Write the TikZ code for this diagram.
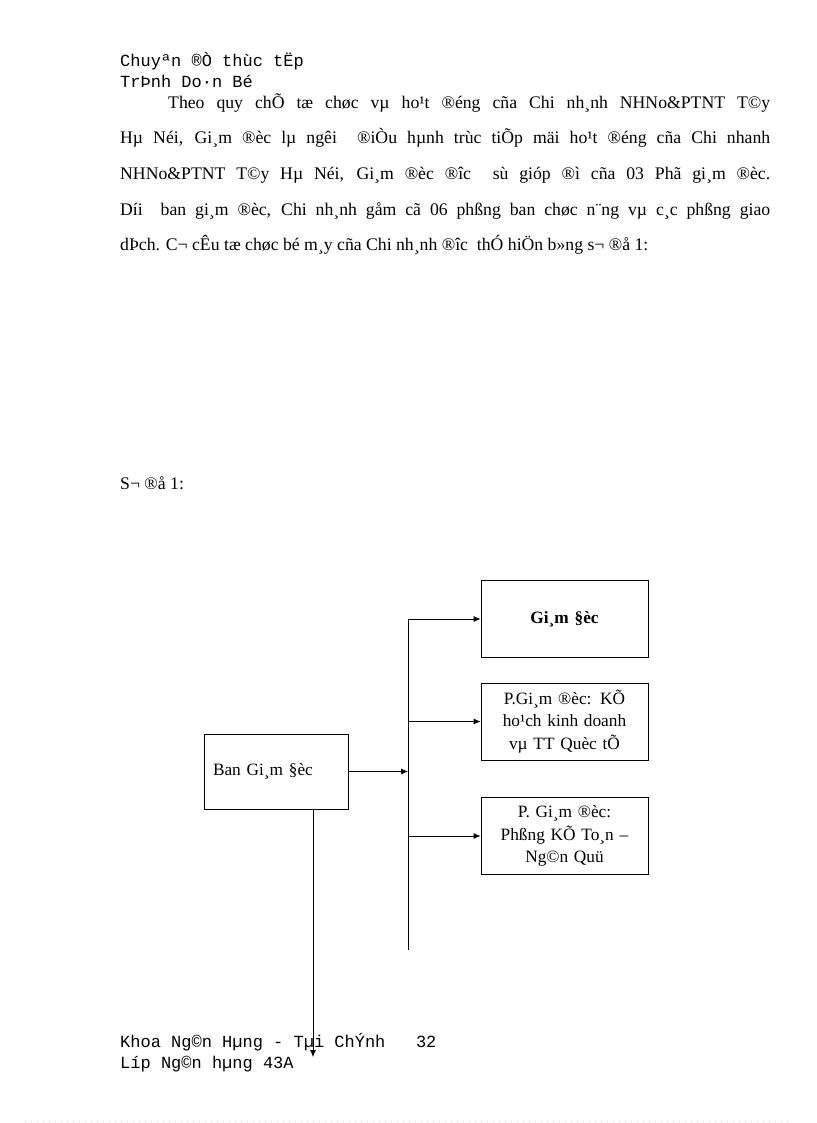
\documentclass[tikz,border=0pt]{standalone}
\usepackage{fontspec}
\setmainfont{Liberation Serif}
\setmonofont{Liberation Mono}
\usepackage{tikz}
\usetikzlibrary{arrows.meta}

\definecolor{edgedots}{RGB}{225,190,235}

\tikzset{
  txt/.style={anchor=base west,inner sep=0pt,font=\fontsize{17.7}{21}\selectfont},
  mono/.style={anchor=base west,inner sep=0pt,font=\fontsize{17}{21}\ttfamily},
  unit/.style={draw,line width=0.8pt,minimum width=167pt,minimum height=77pt,text width=150pt,align=center,inner sep=0pt,font=\fontsize{17.3}{22.5}\selectfont},
  link/.style={line width=0.8pt,-{Latex[length=7pt,width=6pt]}}
}
\newcommand{\jline}[1]{\makebox[650pt][s]{#1}}

\begin{document}
\begin{tikzpicture}[x=1pt,y=-1pt]
        \useasboundingbox (0,0) rectangle (816,1123);

        % header and footer
        \node[mono] (head1) at (120,67) {Chuyªn ®Ò thùc tËp};
        \node[mono] (head2) at (120,88) {TrÞnh Do·n Bé};
        \node[mono] (foot1) at (120,1047) {Khoa Ng©n Hµng - Tµi ChÝnh\ \ \ 32};
        \node[mono] (foot2) at (120,1068) {Líp Ng©n hµng 43A};

        % paragraph
        \node[txt] (par1) at (168,109) {\makebox[602pt][s]{Theo quy chÕ tæ chøc vµ ho¹t ®éng cña Chi nh¸nh NHNo\&PTNT T©y}};
        \node[txt] (par2) at (120,144) {\jline{Hµ Néi, Gi¸m ®èc lµ ngêi \ ®iÒu hµnh trùc tiÕp mäi ho¹t ®éng cña Chi nhanh}};
        \node[txt] (par3) at (120,180) {\jline{NHNo\&PTNT T©y Hµ Néi, Gi¸m ®èc ®îc \ sù gióp ®ì cña 03 Phã gi¸m ®èc.}};
        \node[txt] (par4) at (120,216) {\jline{Díi \ ban gi¸m ®èc, Chi nh¸nh gåm cã 06 phßng ban chøc n¨ng vµ c¸c phßng giao}};
        \node[txt] (par5) at (120,251) {dÞch. C¬ cÊu tæ chøc bé m¸y cña Chi nh¸nh ®îc \ thÓ hiÖn b»ng s¬ ®å 1:};

        \node[txt] (caption) at (120,489) {S¬ ®å 1:};

        % chart
        \node[unit,font=\fontsize{17.3}{22.5}\bfseries] (gd) at (564.5,619) {Gi¸m §èc};
        \node[unit] (pgd1) at (564.5,721.5) {P.Gi¸m ®èc: KÕ\\ ho¹ch kinh doanh\\ vµ TT Quèc tÕ};
        \node[unit] (pgd2) at (564.5,836) {P. Gi¸m ®èc:\\ Phßng KÕ To¸n –\\ Ng©n Quü};
        \node[unit,minimum width=144pt,minimum height=75pt,text width=126pt,align=left] (ban) at (276,771.5) {Ban Gi¸m §èc};

        \coordinate (trunktop) at (408,619);
        \coordinate (trunkbot) at (408,950);
        \coordinate (downend) at (313,1057);

        \draw[line width=0.8pt] (trunktop) -- (trunkbot);
        \draw[link] (trunktop) -- (gd.west);
        \draw[link] (trunktop |- pgd1.west) -- (pgd1.west);
        \draw[link] (trunktop |- pgd2.west) -- (pgd2.west);
        \draw[link] (ban.east) -- (trunktop |- ban.east);
        \draw[link] (ban.south -| downend) -- (downend);

        % page edge
        \draw[edgedots,line width=0.8pt,dash pattern=on 1pt off 5pt] (25,1121.5) -- (791,1121.5);
\end{tikzpicture}
\end{document}
